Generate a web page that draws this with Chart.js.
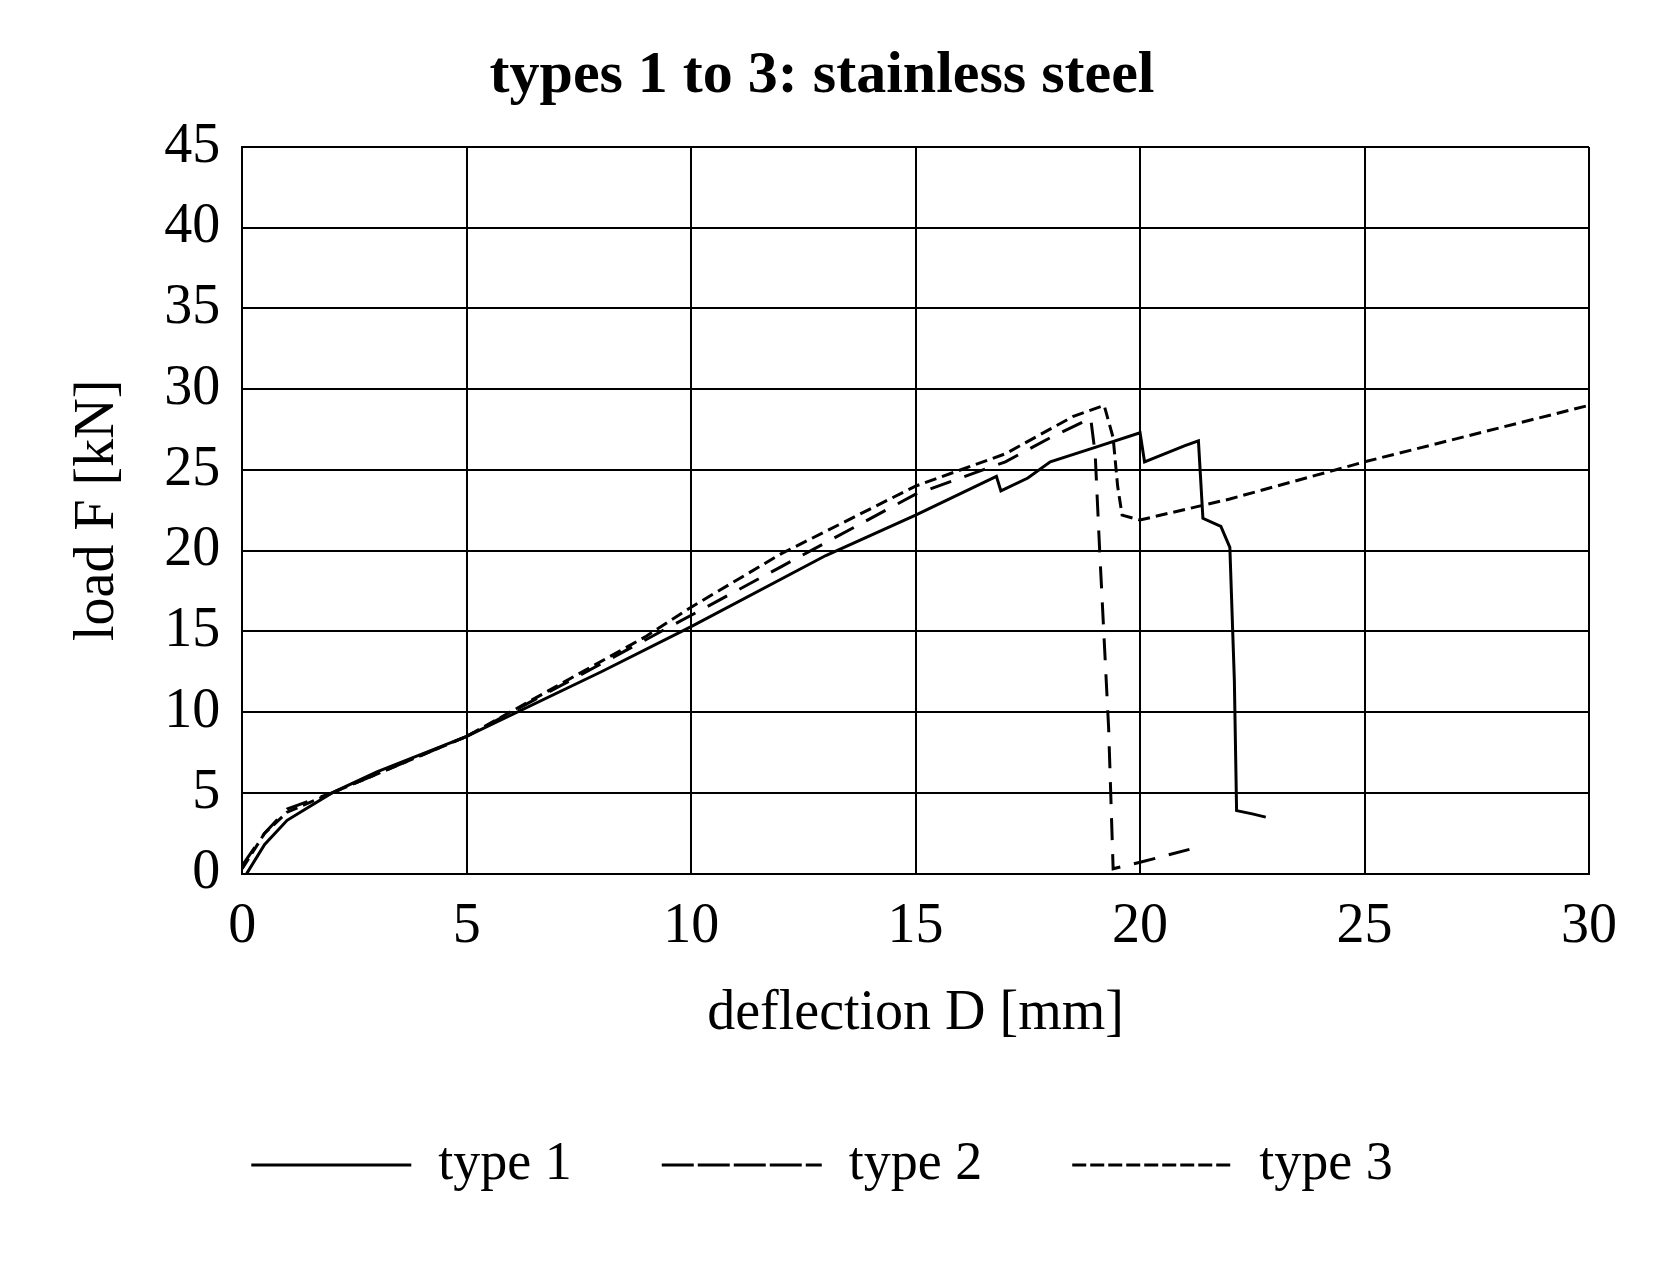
<!DOCTYPE html>
<html><head><meta charset="utf-8">
<script src="https://cdn.jsdelivr.net/npm/chart.js@4"></script>
<style>html,body{margin:0;background:#fff}#w{width:1659px;height:1262px}</style>
</head><body><div id="w"><canvas id="c"></canvas></div>
<script>
const seriesNames = ["type 1", "type 2", "type 3"];
const type1 = [[0.1,0],[0.5,1.8],[1,3.3],[2,5],[3,6.3],[5,8.5],[8,12.5],[10,15.3],[13,19.7],[15,22.2],[16.8,24.6],[16.9,23.7],[17.5,24.5],[18,25.5],[19,26.4],[20,27.3],[20.1,25.5],[21,26.5],[21.3,26.8],[21.4,22],[21.8,21.5],[22,20.2],[22.1,12],[22.15,3.9],[22.5,3.7],[22.8,3.5]];
const type2 = [[0,0.5],[0.5,2.5],[1,4],[2,5],[5,8.5],[9,14.5],[12,19],[15,23.5],[17,25.5],[18,27],[18.9,28.2],[19.0,26],[19.1,20],[19.3,9],[19.4,0.3],[20,0.7],[21.1,1.5]];
const type3 = [[0,0.3],[0.5,2.5],[1,3.8],[2,5],[5,8.5],[9,14.7],[10,16.5],[12,19.8],[15,24],[17,26],[18.5,28.3],[19.2,29],[19.4,27],[19.5,24],[19.6,22.2],[20,21.9],[22,23.2],[25,25.5],[30,29]];
const dashes = [[], [22,14], [12,6]];
const pts = a => a.map(p => ({x:p[0], y:p[1]}));
const font = "'Liberation Serif', 'DejaVu Serif', serif";
new Chart(document.getElementById('c'), {
  type: 'scatter',
  data: { datasets: [type1, type2, type3].map((d,i) => ({
    label: seriesNames[i], data: pts(d), showLine: true, pointRadius: 0,
    borderColor: '#000', backgroundColor: 'transparent', borderWidth: 3, borderDash: dashes[i], tension: 0
  })) },
  options: {
    responsive: true, maintainAspectRatio: false, animation: false,
    layout: { padding: { left: 55, right: 70, top: 20, bottom: 60 } },
    plugins: {
      title: { display: true, text: 'types 1 to 3: stainless steel', color: '#000',
        font: { family: font, size: 60, weight: 'bold' }, padding: { top: 20, bottom: 35 } },
      legend: { position: 'bottom', labels: { color: '#000', boxWidth: 160, boxHeight: 0,
        font: { family: font, size: 54 }, padding: 90 } },
      tooltip: { enabled: false }
    },
    scales: {
      x: { type: 'linear', min: 0, max: 30, ticks: { stepSize: 5, color: '#000', font: { family: font, size: 56 }, padding: 20 },
        grid: { color: '#000', lineWidth: 2, tickLength: 0 }, border: { color: '#000', width: 2 },
        title: { display: true, text: 'deflection D [mm]', color: '#000', font: { family: font, size: 56 }, padding: 0 } },
      y: { min: 0, max: 45, ticks: { stepSize: 5, color: '#000', font: { family: font, size: 56 }, padding: 22 },
        grid: { color: '#000', lineWidth: 2, tickLength: 0 }, border: { color: '#000', width: 2 },
        title: { display: true, text: 'load F [kN]', color: '#000', font: { family: font, size: 56 }, padding: 10 } }
    }
  }
});
</script></body></html>
